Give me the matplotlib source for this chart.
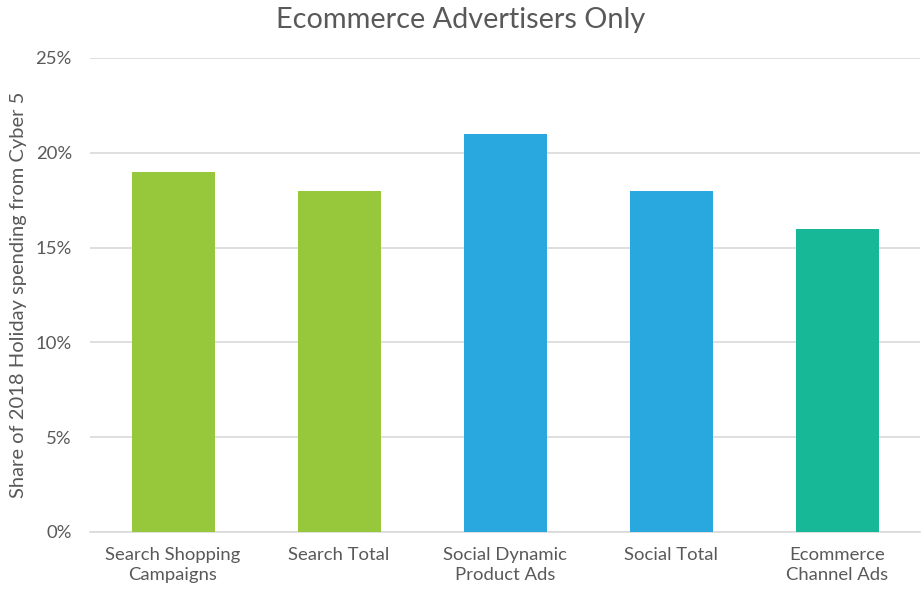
import matplotlib

matplotlib.use("Agg")
import matplotlib.pyplot as plt
from matplotlib.ticker import FuncFormatter

plt.rcParams["font.family"] = ["Lato", "DejaVu Sans"]

CATEGORIES = ["Search Shopping\nCampaigns", "Search Total", "Social Dynamic\nProduct Ads",
              "Social Total", "Ecommerce\nChannel Ads"]
SHARES = [19, 18, 21, 18, 16]
COLORS = ["#97c83c", "#97c83c", "#29a8e0", "#29a8e0", "#17b897"]
YTICKS = [0, 5, 10, 15, 20, 25]

TEXT = "#595959"
GRID = "#d9d9d9"

fig = plt.figure(figsize=(9.22, 5.90), dpi=100)
ax = fig.add_axes([90 / 922, 1 - 532 / 590, 830 / 922, (532 - 58) / 590])

x = range(len(CATEGORIES))
ax.bar(x, SHARES, width=0.5, color=COLORS, zorder=3)

ax.set_xlim(-0.5, len(CATEGORIES) - 0.5)
ax.set_ylim(0, 25)
ax.set_yticks(YTICKS)
ax.yaxis.set_major_formatter(FuncFormatter(lambda v, _: f"{v:.0f}%"))
ax.set_xticks(list(x))
ax.set_xticklabels(CATEGORIES, linespacing=1.25)
ax.tick_params(axis="both", length=0, labelsize=13.3, colors=TEXT)
ax.tick_params(axis="x", pad=11)
ax.tick_params(axis="y", pad=13)

ax.grid(axis="y", color=GRID, lw=1.2, zorder=0)
for side in ["top", "right", "left"]:
    ax.spines[side].set_visible(False)
ax.spines["bottom"].set_color(GRID)
ax.spines["bottom"].set_linewidth(1.2)

ax.set_ylabel("Share of 2018 Holiday spending from Cyber 5", fontsize=14.5, color=TEXT, labelpad=6)
fig.text(0.5, 1 - 20 / 590, "Ecommerce Advertisers Only", ha="center", va="center",
         fontsize=20.8, color=TEXT)

fig.savefig("out.png", dpi=100)
